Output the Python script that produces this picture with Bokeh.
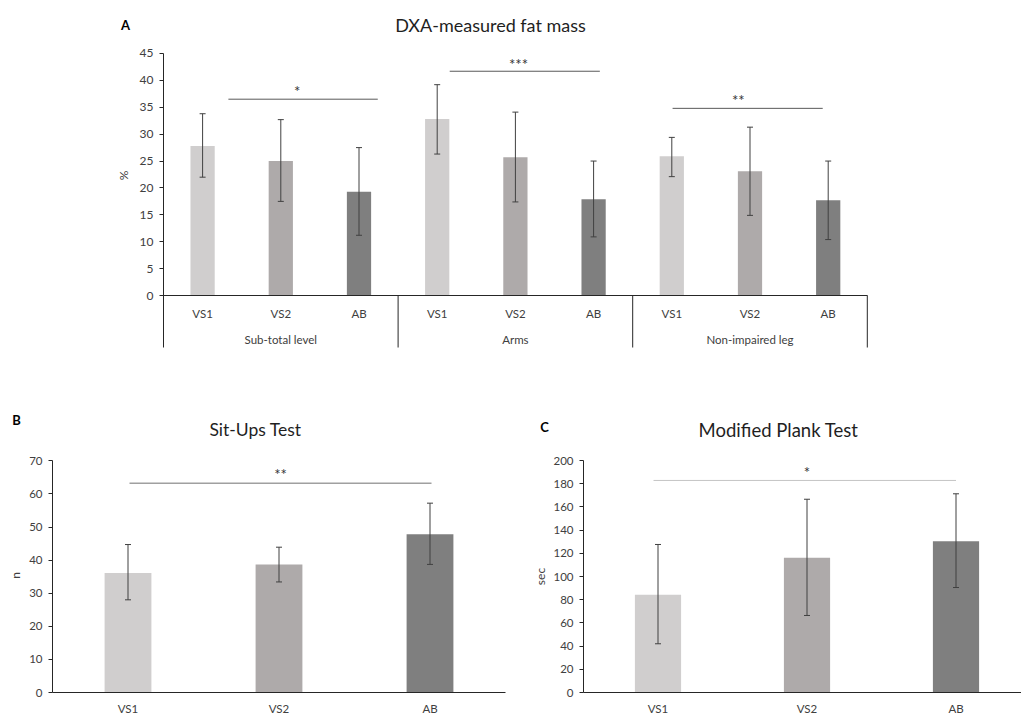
import math
from bokeh.plotting import figure
from bokeh.models import (ColumnDataSource, Range1d, FixedTicker, Whisker, TeeHead)
from bokeh.layouts import column, row
from bokeh.embed import file_html
from bokeh.resources import INLINE
from bokeh.core.properties import value

FONT = "Lato"
AXIS_COLOR = "#262626"
TICK_COLOR = "#404040"
ERR_COLOR = "#404040"
TITLE_COLOR = "#1f1f1f"

# ---------------- data ----------------
cats = ["VS1", "VS2", "AB"]
bar_colors = ["#d0cece", "#aeaaaa", "#7f7f7f"]

# Panel A: DXA-measured fat mass (%)
groups_a = ["Sub-total level", "Arms", "Non-impaired leg"]
mean_a = [27.8, 25.0, 19.3, 32.8, 25.7, 17.9, 25.9, 23.1, 17.7]
low_a = [22.0, 17.5, 11.2, 26.3, 17.4, 10.9, 22.1, 14.9, 10.4]
high_a = [33.8, 32.7, 27.5, 39.2, 34.1, 25.0, 29.4, 31.3, 25.0]
ticks_a = list(range(0, 46, 5))
sig_a_text = ["*", "***", "**"]
sig_a_x0 = [0.83, 3.66, 6.51]
sig_a_x1 = [2.74, 5.58, 8.43]
sig_a_y = [36.5, 41.7, 34.8]
sig_a_star_x = [1.71, 4.54, 7.35]
sig_a_star_y = [39.0, 44.0, 37.2]

# Panel B: Sit-Ups Test (n)
mean_b = [36.1, 38.7, 47.8]
low_b = [28.0, 33.4, 38.7]
high_b = [44.7, 43.9, 57.2]
ticks_b = list(range(0, 71, 10))
sig_b_text = ["**"]
sig_b_x0 = [0.51]
sig_b_x1 = [2.51]
sig_b_y = [63.2]
sig_b_star_x = [1.51]
sig_b_star_y = [67.4]

# Panel C: Modified Plank Test (sec)
mean_c = [84.2, 116.1, 130.4]
low_c = [42.0, 66.4, 90.5]
high_c = [127.6, 166.6, 171.3]
ticks_c = list(range(0, 201, 20))
sig_c_text = ["*"]
sig_c_x0 = [0.47]
sig_c_x1 = [2.50]
sig_c_y = [182.8]
sig_c_star_x = [1.50]
sig_c_star_y = [194.0]


class Panel:
    """A figure whose frame fills the whole canvas; geometry in page pixels."""

    def __init__(self, left, top, width, height, x0px, xunit, y0px, yunit):
        self.left, self.top = left, top
        self.x0px, self.xunit = x0px, xunit
        self.y0px, self.yunit = y0px, yunit
        xr = Range1d((left - x0px) / xunit, (left + width - x0px) / xunit)
        yr = Range1d((y0px - (top + height)) / yunit, (y0px - top) / yunit)
        p = figure(width=width, height=height, output_backend="svg",
                   toolbar_location=None, tools="", x_range=xr, y_range=yr,
                   min_border=0, min_border_left=0, min_border_right=0,
                   min_border_top=0, min_border_bottom=0)
        p.outline_line_color = None
        p.xgrid.visible = False
        p.ygrid.visible = False
        p.background_fill_color = "white"
        p.border_fill_color = "white"
        self.p = p

    def dx(self, px):
        return (px - self.x0px) / self.xunit

    def dy(self, py):
        return (self.y0px - py) / self.yunit

    def text(self, px, py, txt, size, bold=False, color=TITLE_COLOR, angle=0.0):
        self.p.text(x=[self.dx(px)], y=[self.dy(py)], text=[txt],
                    text_font=value(FONT), text_font_size=size,
                    text_font_style="bold" if bold else "normal",
                    text_color=color, text_align="center", text_baseline="middle",
                    angle=angle)


def style_yaxis(p, ticks, fs="11.5px"):
    ax = p.yaxis[0]
    ax.fixed_location = 0
    ax.ticker = FixedTicker(ticks=ticks)
    ax.minor_tick_line_color = None
    ax.major_tick_in = 0
    ax.major_tick_out = 4
    ax.major_tick_line_color = AXIS_COLOR
    ax.axis_line_color = AXIS_COLOR
    ax.major_label_text_font = FONT
    ax.major_label_text_font_size = fs
    ax.major_label_text_color = TICK_COLOR
    ax.major_label_standoff = 6
    return ax


def style_xaxis(p, labels, bounds, standoff, fs="11.5px"):
    pos = [i + 0.5 for i in range(len(labels))]
    ax = p.xaxis[0]
    ax.fixed_location = 0
    ax.bounds = bounds
    ax.ticker = FixedTicker(ticks=pos)
    ax.major_label_overrides = {x: c for x, c in zip(pos, labels)}
    ax.minor_tick_line_color = None
    ax.major_tick_in = 0
    ax.major_tick_out = 0
    ax.axis_line_color = AXIS_COLOR
    ax.major_label_text_font = FONT
    ax.major_label_text_font_size = fs
    ax.major_label_text_color = TICK_COLOR
    ax.major_label_standoff = standoff
    return ax


def add_bars(p, xs, means, lows, highs, colors, width=0.31):
    src = ColumnDataSource(dict(x=xs, top=means, lo=lows, hi=highs, color=colors))
    p.vbar(x="x", top="top", width=width, bottom=0, fill_color="color",
           line_color=None, source=src)
    w = Whisker(base="x", upper="hi", lower="lo", source=src, level="overlay",
                line_color=ERR_COLOR, line_width=1,
                upper_head=TeeHead(size=6, line_color=ERR_COLOR, line_width=1),
                lower_head=TeeHead(size=6, line_color=ERR_COLOR, line_width=1))
    p.add_layout(w)


def add_sig(p, x0, x1, y, sx, sy, texts, line_color, line_width=1):
    p.segment(x0=x0, x1=x1, y0=y, y1=y, line_color=line_color, line_width=line_width)
    p.text(x=sx, y=sy, text=texts, text_font=value(FONT), text_font_size="15px",
           text_color="#333333", text_align="center", text_baseline="middle", y_offset=5)


# ---------------- Panel A ----------------
A = Panel(left=0, top=0, width=1021, height=370, x0px=163, xunit=78.2, y0px=295, yunit=5.378)
pA = A.p
n_a = len(mean_a)
xa_pos = [i + 0.5 for i in range(n_a)]
cats_a = cats * len(groups_a)
colors_a = bar_colors * len(groups_a)
y_bottom_a = A.dy(347)

ya = style_yaxis(pA, ticks_a, fs="12px")
ya.bounds = (y_bottom_a, 45)
style_xaxis(pA, cats_a, (0, n_a), standoff=11)

add_bars(pA, xa_pos, mean_a, low_a, high_a, colors_a)

# group separators and group labels
sep_x = [len(cats) * (i + 1) for i in range(len(groups_a))]
pA.segment(x0=sep_x, x1=sep_x, y0=[0] * len(sep_x), y1=[y_bottom_a] * len(sep_x),
           line_color=AXIS_COLOR, line_width=1)
group_x = [len(cats) * i + len(cats) / 2 for i in range(len(groups_a))]
pA.text(x=group_x, y=[A.dy(339)] * len(groups_a), text=groups_a,
        text_font=value(FONT), text_font_size="11.5px", text_color=TICK_COLOR,
        text_align="center", text_baseline="middle")

add_sig(pA, sig_a_x0, sig_a_x1, sig_a_y, sig_a_star_x, sig_a_star_y, sig_a_text, "#595959")

A.text(490, 24, "DXA-measured fat mass", "18px")
A.text(125, 24, "A", "13px", bold=True, color="black")
A.text(123, 175, "%", "12px", color=TICK_COLOR, angle=math.pi / 2)

# ---------------- Panel B ----------------
B = Panel(left=0, top=370, width=510, height=343, x0px=52, xunit=151, y0px=692, yunit=3.31)
pB = B.p
xb_pos = [i + 0.5 for i in range(len(cats))]
yb = style_yaxis(pB, ticks_b)
yb.bounds = (0, 70)
style_xaxis(pB, cats, (0, 3.0), standoff=9)

add_bars(pB, xb_pos, mean_b, low_b, high_b, bar_colors)
add_sig(pB, sig_b_x0, sig_b_x1, sig_b_y, sig_b_star_x, sig_b_star_y, sig_b_text,
        "#a0a0a0", line_width=1.5)

B.text(255, 429, "Sit-Ups Test", "17.5px")
B.text(16, 419, "B", "13px", bold=True, color="black")
B.text(15, 575, "n", "12px", color=TICK_COLOR, angle=math.pi / 2)

# ---------------- Panel C ----------------
C = Panel(left=510, top=370, width=511, height=343, x0px=583, xunit=149, y0px=692, yunit=1.16)
pC = C.p
xc_pos = [i + 0.5 for i in range(len(cats))]
yc = style_yaxis(pC, ticks_c)
yc.bounds = (0, 200)
style_xaxis(pC, cats, (0, 3.0), standoff=9)

add_bars(pC, xc_pos, mean_c, low_c, high_c, bar_colors)
add_sig(pC, sig_c_x0, sig_c_x1, sig_c_y, sig_c_star_x, sig_c_star_y, sig_c_text, "#c4c4c4")

C.text(778, 429, "Modified Plank Test", "18.5px")
C.text(544, 426, "C", "13px", bold=True, color="black")
C.text(540, 576, "sec", "12px", color=TICK_COLOR, angle=math.pi / 2)

layout = column(pA, row(pB, pC, spacing=0), spacing=0)
open("out.html", "w").write(file_html(layout, INLINE))
